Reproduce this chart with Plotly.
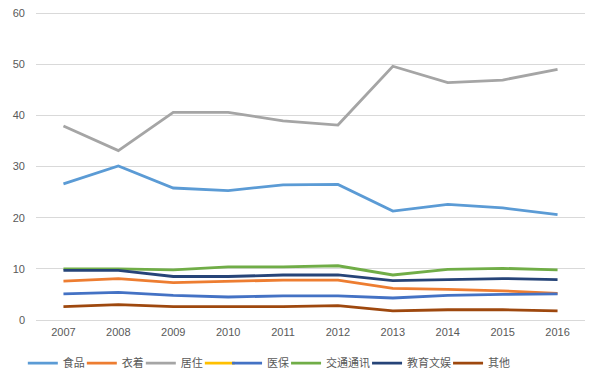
import plotly.graph_objects as go

years = ["2007", "2008", "2009", "2010", "2011", "2012", "2013", "2014", "2015", "2016"]

food = [26.6, 30.1, 25.8, 25.3, 26.4, 26.5, 21.3, 22.6, 21.9, 20.6]
clothing = [7.6, 8.1, 7.3, 7.5, 7.8, 7.8, 6.2, 6.0, 5.7, 5.2]
housing = [37.9, 33.1, 40.6, 40.6, 38.9, 38.1, 49.6, 46.4, 46.9, 49.0]
unnamed = [None] * 10
medical = [5.1, 5.4, 4.8, 4.5, 4.7, 4.7, 4.3, 4.8, 5.0, 5.1]
transport = [10.0, 10.0, 9.8, 10.4, 10.4, 10.6, 8.8, 9.9, 10.1, 9.8]
education = [9.7, 9.7, 8.5, 8.5, 8.8, 8.8, 7.7, 7.9, 8.1, 7.9]
other = [2.6, 3.0, 2.6, 2.6, 2.6, 2.8, 1.8, 2.0, 2.0, 1.8]

# name, values, colour, legend entry text width, legend group box
series = [
    ("食品", food, "#5B9BD5", 14, "legend"),
    ("衣着", clothing, "#ED7D31", 14, "legend"),
    ("居住", housing, "#A5A5A5", 14, "legend"),
    ("", unnamed, "#FFC000", 0, "legend"),
    ("医保", medical, "#4472C4", 14, "legend2"),
    ("交通通讯", transport, "#70AD47", 36, "legend2"),
    ("教育文娱", education, "#264478", 36, "legend2"),
    ("其他", other, "#9E480E", 22, "legend2"),
]

fig = go.Figure()
for name, vals, color, lw, lg in series:
    kw = dict(legendwidth=lw) if lw else {}
    fig.add_trace(go.Scatter(
        x=years, y=vals, name=name, mode="lines",
        line=dict(color=color, width=2.8),
        showlegend=True, legend=lg, hoverinfo="skip", **kw,
    ))

legend_common = dict(orientation="h", xanchor="left", y=-0.14, yanchor="middle",
                     font=dict(size=11, color="#595959", family="Noto Sans CJK SC"),
                     itemwidth=30, tracegroupgap=0, bgcolor="rgba(0,0,0,0)")

fig.update_layout(
    width=600, height=385,
    margin=dict(l=36, r=15, t=12, b=65, autoexpand=False),
    paper_bgcolor="white", plot_bgcolor="white",
    font=dict(family="Liberation Sans, Noto Sans CJK SC", size=11, color="#595959"),
    xaxis=dict(type="category", range=[-0.5, 9.5], showgrid=False, showline=False,
               zeroline=False, ticks="", ticklabelstandoff=4,
               tickfont=dict(size=11, color="#595959")),
    yaxis=dict(range=[0, 60.2], tickvals=[0, 10, 20, 30, 40, 50, 60], showgrid=True,
               gridcolor="#D9D9D9", gridwidth=1, zeroline=True, zerolinecolor="#D9D9D9",
               zerolinewidth=1, showline=False, ticks="", ticklabelstandoff=10,
               tickfont=dict(size=11, color="#595959")),
    legend=dict(x=-0.024, **legend_common),
    legend2=dict(x=0.348, **legend_common),
    showlegend=True,
)

fig.write_html("out.html", config={"displayModeBar": False, "staticPlot": True},
               post_script="document.body.style.margin='0';")
